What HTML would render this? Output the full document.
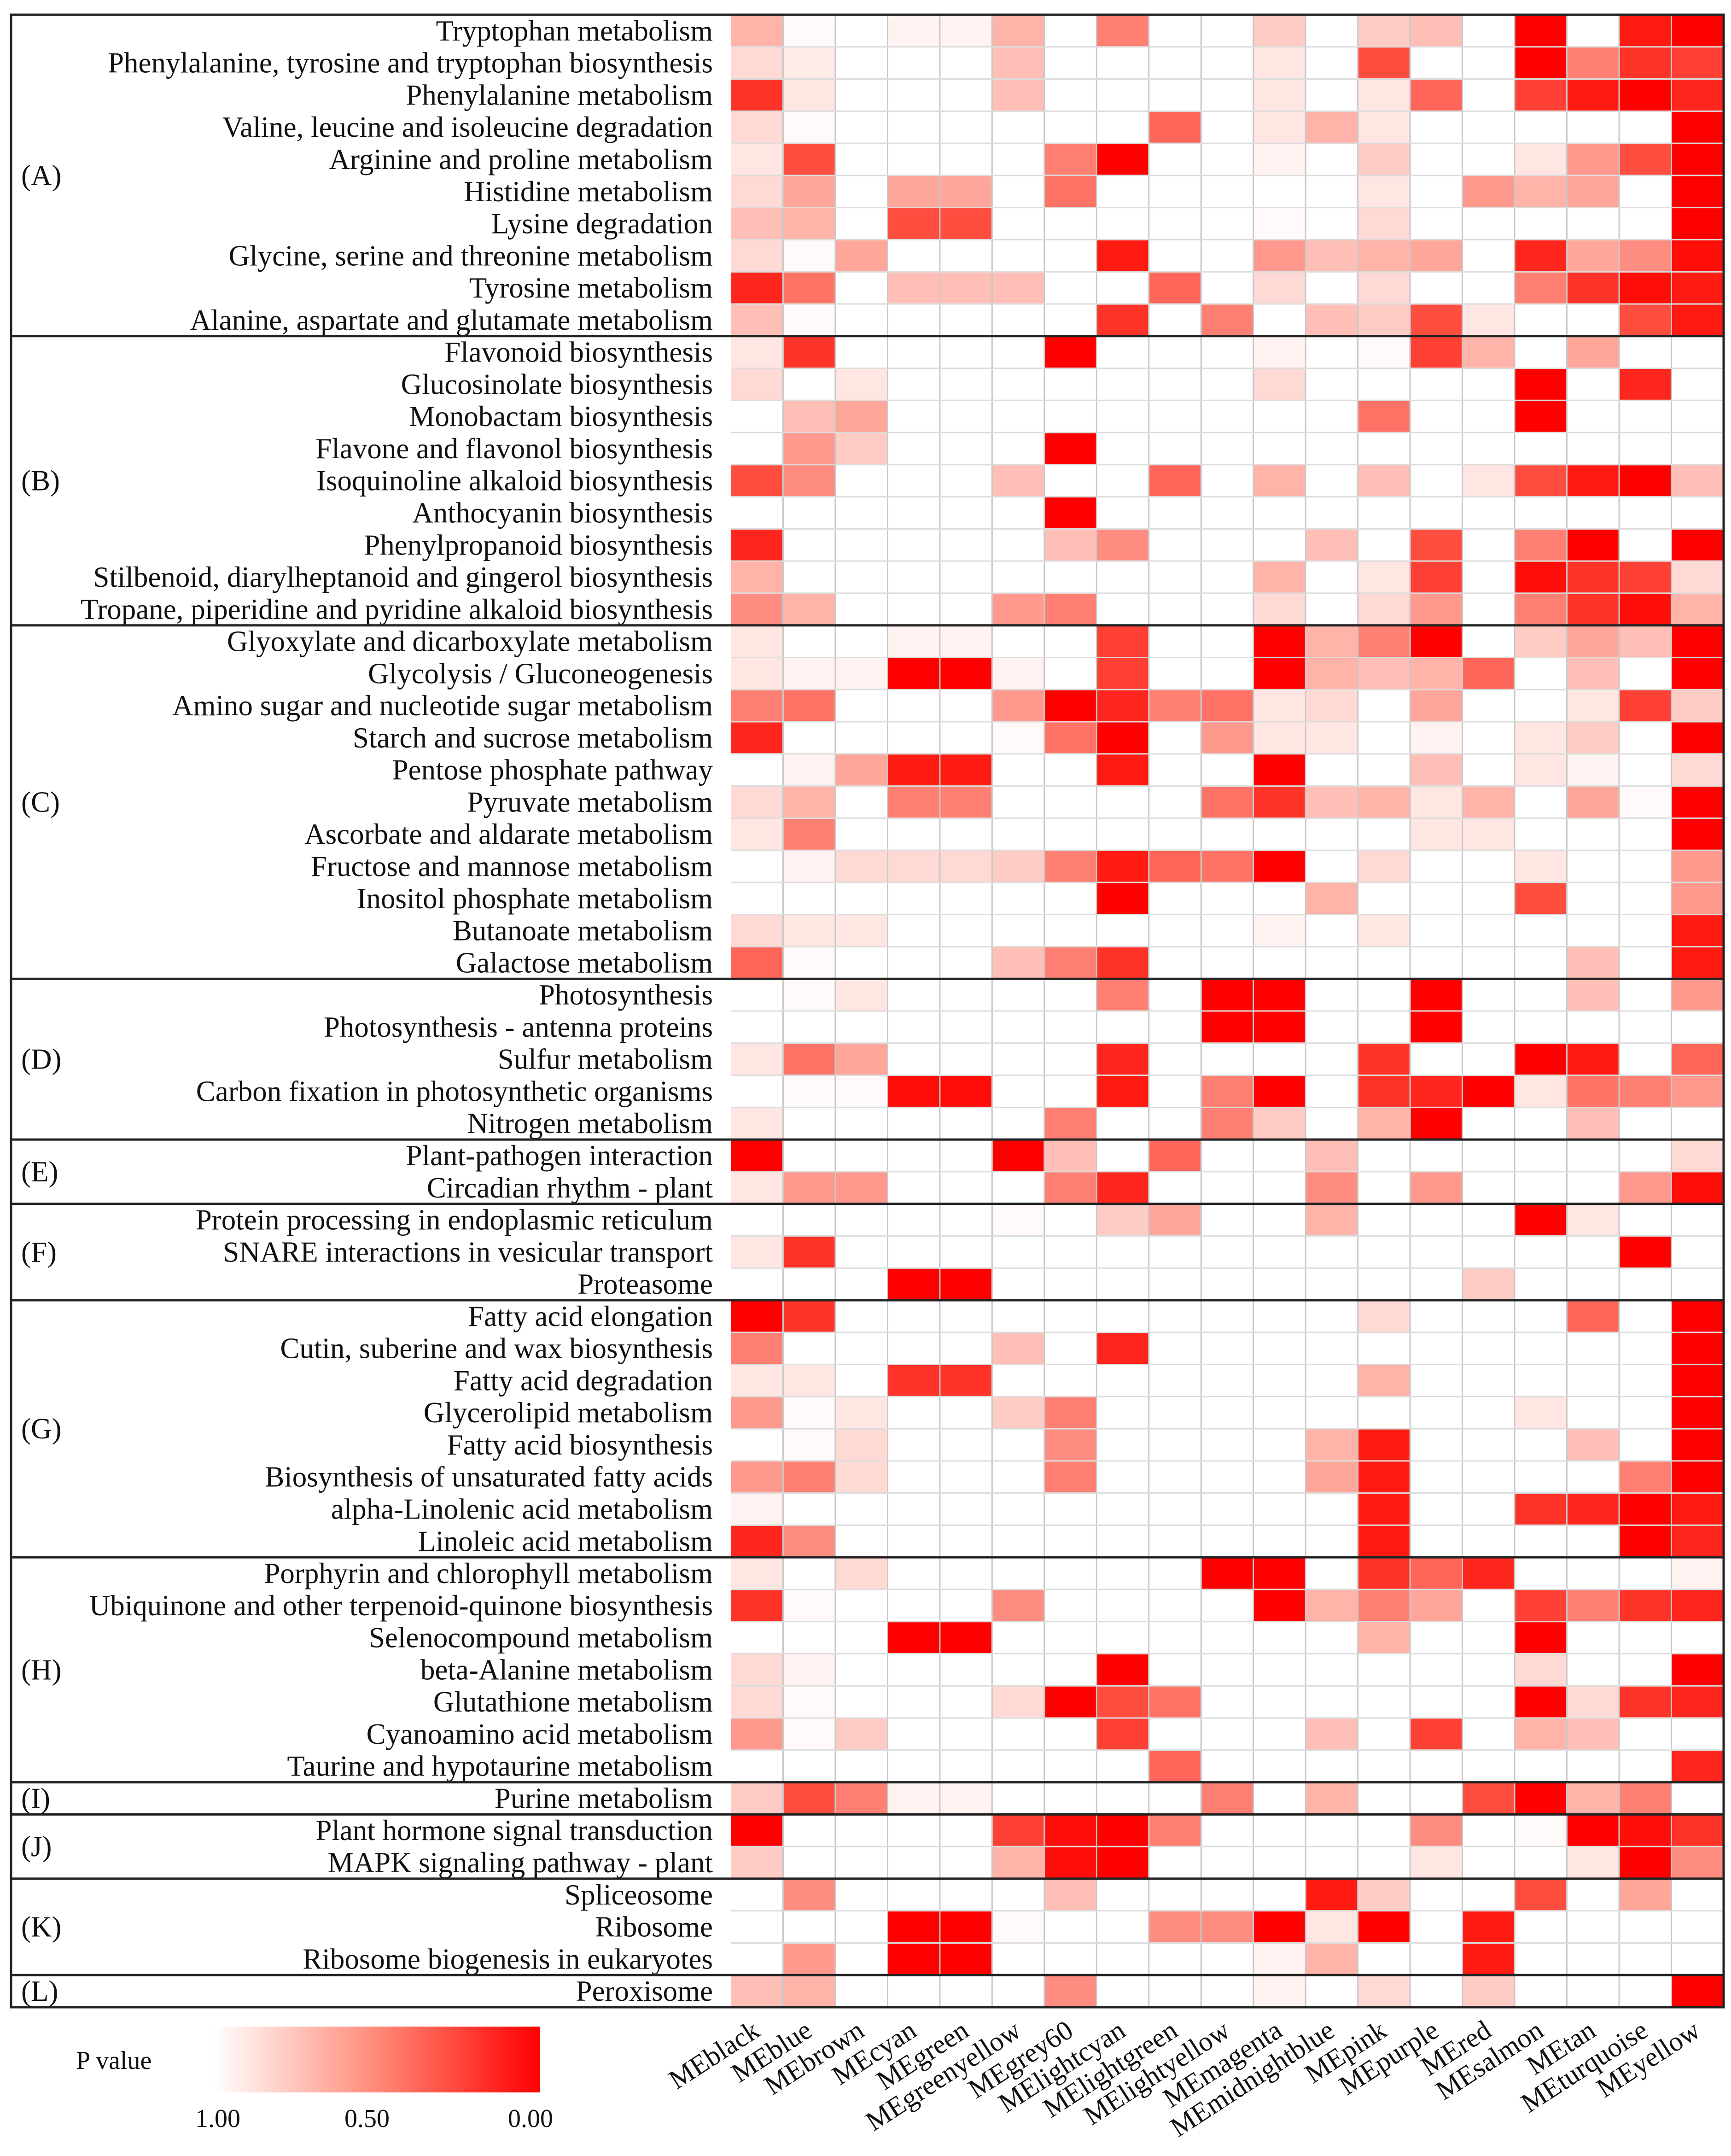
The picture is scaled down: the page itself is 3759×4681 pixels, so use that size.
<!DOCTYPE html>
<html><head><meta charset="utf-8"><style>
html,body{margin:0;padding:0;background:#fff;}
svg{display:block;}
text{font-family:"Liberation Serif",serif;fill:#111;}
</style></head><body>
<svg id="chart" width="3759" height="4681" viewBox="0 0 3759 4681" xmlns="http://www.w3.org/2000/svg">
<defs><linearGradient id="pgrad" x1="0" x2="1" y1="0" y2="0"><stop offset="0" stop-color="#ffffff"/><stop offset="0.5" stop-color="#ff8a78"/><stop offset="1" stop-color="#ff0000"/></linearGradient></defs>
<g id="cells"></g>
<g id="grid"></g>
<g id="rowlabels"></g>
<g id="groups"></g>
<g id="xlabels"></g>
<g>
<text x="165" y="4492" font-size="56">P value</text>
<rect x="464" y="4400" width="709" height="143" fill="url(#pgrad)"/>
<text x="473" y="4618" font-size="56" text-anchor="middle">1.00</text>
<text x="797" y="4618" font-size="56" text-anchor="middle">0.50</text>
<text x="1152" y="4618" font-size="56" text-anchor="middle">0.00</text>
</g>
</svg>
<script>
const modules = ["MEblack","MEblue","MEbrown","MEcyan","MEgreen","MEgreenyellow","MEgrey60","MElightcyan","MElightgreen","MElightyellow","MEmagenta","MEmidnightblue","MEpink","MEpurple","MEred","MEsalmon","MEtan","MEturquoise","MEyellow"];
const pathways = ["Tryptophan metabolism","Phenylalanine, tyrosine and tryptophan biosynthesis","Phenylalanine metabolism","Valine, leucine and isoleucine degradation","Arginine and proline metabolism","Histidine metabolism","Lysine degradation","Glycine, serine and threonine metabolism","Tyrosine metabolism","Alanine, aspartate and glutamate metabolism",
"Flavonoid biosynthesis","Glucosinolate biosynthesis","Monobactam biosynthesis","Flavone and flavonol biosynthesis","Isoquinoline alkaloid biosynthesis","Anthocyanin biosynthesis","Phenylpropanoid biosynthesis","Stilbenoid, diarylheptanoid and gingerol biosynthesis","Tropane, piperidine and pyridine alkaloid biosynthesis",
"Glyoxylate and dicarboxylate metabolism","Glycolysis / Gluconeogenesis","Amino sugar and nucleotide sugar metabolism","Starch and sucrose metabolism","Pentose phosphate pathway","Pyruvate metabolism","Ascorbate and aldarate metabolism","Fructose and mannose metabolism","Inositol phosphate metabolism","Butanoate metabolism","Galactose metabolism",
"Photosynthesis","Photosynthesis - antenna proteins","Sulfur metabolism","Carbon fixation in photosynthetic organisms","Nitrogen metabolism",
"Plant-pathogen interaction","Circadian rhythm - plant",
"Protein processing in endoplasmic reticulum","SNARE interactions in vesicular transport","Proteasome",
"Fatty acid elongation","Cutin, suberine and wax biosynthesis","Fatty acid degradation","Glycerolipid metabolism","Fatty acid biosynthesis","Biosynthesis of unsaturated fatty acids","alpha-Linolenic acid metabolism","Linoleic acid metabolism",
"Porphyrin and chlorophyll metabolism","Ubiquinone and other terpenoid-quinone biosynthesis","Selenocompound metabolism","beta-Alanine metabolism","Glutathione metabolism","Cyanoamino acid metabolism","Taurine and hypotaurine metabolism",
"Purine metabolism","Plant hormone signal transduction","MAPK signaling pathway - plant","Spliceosome","Ribosome","Ribosome biogenesis in eukaryotes","Peroxisome"];
const groupNames = ["(A)","(B)","(C)","(D)","(E)","(F)","(G)","(H)","(I)","(J)","(K)","(L)"];
const groupSizes = [10,9,11,5,2,3,8,7,1,2,3,1];
const pValues = [
[.7,.98,1,.95,.95,.7,1,.5,1,1,.8,1,.8,.75,1,0,1,.1,0],
[.85,.92,1,1,1,.75,1,1,1,1,.9,1,.3,1,1,0,.5,.2,.25],
[.2,.9,1,1,1,.75,1,1,1,1,.9,1,.9,.4,1,.25,.1,0,.15],
[.85,.98,1,1,1,1,1,1,.4,1,.9,.7,.9,1,1,1,1,1,0],
[.9,.3,1,1,1,1,.5,0,1,1,.95,1,.8,1,1,.9,.6,.3,0],
[.85,.65,1,.65,.65,1,.45,1,1,1,1,1,.9,1,.6,.7,.65,1,0],
[.75,.7,1,.3,.3,1,1,1,1,1,.98,1,.85,1,1,1,1,1,0],
[.85,.98,.65,1,1,1,1,.1,1,1,.6,.75,.7,.65,1,.15,.65,.55,.05],
[.15,.45,1,.75,.75,.75,1,1,.4,1,.85,1,.85,1,1,.5,.2,.05,.1],
[.75,.98,1,1,1,1,1,.2,1,.5,1,.75,.8,.3,.9,1,1,.3,.1],
[.9,.2,1,1,1,1,0,1,1,1,.95,1,.98,.25,.7,1,.65,1,1],
[.85,1,.9,1,1,1,1,1,1,1,.85,1,1,1,1,0,1,.15,1],
[1,.75,.65,1,1,1,1,1,1,1,1,1,.45,1,1,0,1,1,1],
[1,.6,.8,1,1,1,0,1,1,1,1,1,1,1,1,1,1,1,1],
[.3,.55,1,1,1,.75,1,1,.4,1,.7,1,.75,1,.9,.3,.1,0,.75],
[1,1,1,1,1,1,0,1,1,1,1,1,1,1,1,1,1,1,1],
[.15,1,1,1,1,1,.75,.55,1,1,1,.75,1,.3,1,.5,0,1,0],
[.7,1,1,1,1,1,1,1,1,1,.7,1,.9,.25,1,.05,.2,.25,.85],
[.55,.7,1,1,1,.6,.5,1,1,1,.85,1,.85,.6,1,.5,.2,.05,.7],
[.9,1,1,.95,.95,1,1,.25,1,1,0,.7,.5,0,1,.8,.65,.75,0],
[.9,.95,.95,0,0,.95,1,.25,1,1,0,.7,.75,.7,.4,1,.75,1,0],
[.5,.45,1,1,1,.6,0,.15,.5,.45,.9,.85,1,.65,1,1,.9,.25,.8],
[.15,1,1,1,1,.98,.45,0,1,.6,.9,.9,1,.95,1,.9,.8,1,0],
[1,.95,.65,.1,.1,1,1,.1,1,1,0,1,1,.75,1,.9,.95,1,.85],
[.85,.7,1,.5,.5,1,1,1,1,.45,.2,.75,.7,.9,.7,1,.65,.98,0],
[.9,.5,1,1,1,1,1,1,1,1,1,1,1,.9,.9,1,1,1,0],
[1,.95,.85,.85,.85,.8,.5,.1,.4,.45,0,1,.85,1,1,.9,1,1,.6],
[1,1,1,1,1,1,1,0,1,1,1,.7,1,1,1,.3,1,1,.6],
[.85,.9,.9,1,1,1,1,1,1,1,.95,1,.9,1,1,1,1,1,.1],
[.4,.98,1,1,1,.75,.5,.2,1,1,1,1,1,1,1,1,.75,1,.1],
[1,.98,.9,1,1,1,1,.5,1,0,0,1,1,0,1,1,.75,1,.6],
[1,1,1,1,1,1,1,1,1,0,0,1,1,0,1,1,1,1,1],
[.9,.45,.65,1,1,1,1,.15,1,1,1,1,.2,1,1,0,.1,1,.4],
[1,.98,.98,.05,.05,1,1,.1,1,.5,0,1,.2,.15,0,.9,.45,.5,.6],
[.9,1,1,1,1,1,.5,1,1,.5,.8,1,.7,0,1,1,.75,1,1],
[0,1,1,1,1,0,.75,1,.4,1,1,.75,1,1,1,1,1,1,.85],
[.9,.6,.6,1,1,1,.5,.15,1,1,1,.55,1,.6,1,1,1,.6,.05],
[1,1,1,1,1,.98,1,.8,.65,1,1,.7,1,1,1,0,.9,1,1],
[.9,.2,1,1,1,1,1,1,1,1,1,1,1,1,1,1,1,0,1],
[1,1,1,0,0,1,1,1,1,1,1,1,1,1,.8,1,1,1,1],
[0,.2,1,1,1,1,1,1,1,1,1,1,.85,1,1,1,.4,1,0],
[.5,1,1,1,1,.75,1,.15,1,1,1,1,1,1,1,1,1,1,0],
[.9,.9,1,.2,.2,1,1,1,1,1,1,1,.7,1,1,1,1,1,0],
[.6,.98,.9,1,1,.8,.5,1,1,1,1,1,1,1,1,.9,1,1,0],
[1,.98,.85,1,1,1,.55,1,1,1,1,.7,.1,1,1,1,.75,1,0],
[.6,.5,.85,1,1,1,.5,1,1,1,1,.65,.1,1,1,1,1,.5,0],
[.95,1,1,1,1,1,1,1,1,1,1,1,.1,1,1,.2,.15,0,.1],
[.15,.55,1,1,1,1,1,1,1,1,1,1,.1,1,1,1,1,0,.15],
[.9,1,.85,1,1,1,1,1,1,0,0,1,.2,.4,.15,1,1,1,.95],
[.2,.98,1,1,1,.55,1,1,1,1,0,.7,.5,.65,1,.25,.5,.2,.15],
[1,1,1,0,0,1,1,1,1,1,1,1,.7,1,1,0,1,1,1],
[.85,.95,1,1,1,1,1,0,1,1,1,1,1,1,1,.85,1,1,0],
[.85,.98,1,1,1,.85,0,.3,.45,1,1,1,1,1,1,0,.85,.2,.15],
[.6,.98,.8,1,1,1,1,.25,1,1,1,.75,1,.25,1,.7,.75,1,1],
[1,1,1,1,1,1,1,1,.4,1,1,1,1,1,1,1,1,1,.15],
[.8,.3,.5,.95,.95,1,1,1,1,.5,1,.7,1,1,.3,0,.7,.5,1],
[0,1,1,1,1,.25,.05,0,.5,1,1,1,1,.55,1,.98,0,.05,.2],
[.8,1,1,1,1,.7,.05,0,1,1,1,1,1,.9,1,1,.9,0,.55],
[1,.55,1,1,1,1,.75,1,1,1,1,.1,.8,1,1,.3,1,.65,1],
[1,1,1,0,0,.98,1,1,.55,.55,0,.9,0,1,.1,1,1,1,1],
[1,.6,1,0,0,1,1,1,1,1,.95,.7,1,1,.1,1,1,1,1],
[.75,.7,1,1,1,1,.55,1,1,1,.95,1,.85,1,.8,1,1,1,0]
];

const NS = "http://www.w3.org/2000/svg";
const X0 = 1587, X1 = 3743, Y0 = 32, Y1 = 4358, LEFT = 24;
const colW = (X1 - X0) / modules.length;
const rowH = (Y1 - Y0) / pathways.length;
function xPos(c){ return X0 + c * colW; }
function yPos(r){ return Y0 + r * rowH; }
function colorFor(p){
  const t = Math.max(0, Math.min(1, p));
  const g = Math.round(255 * t);
  const b = Math.round(255 * Math.pow(t, 1.15));
  return "rgb(255," + g + "," + b + ")";
}
function mk(tag, attrs, parent){ const e = document.createElementNS(NS, tag); for (const k in attrs) e.setAttribute(k, attrs[k]); parent.appendChild(e); return e; }

const cells = document.getElementById("cells");
for (let r = 0; r < pathways.length; r++) {
  for (let c = 0; c < modules.length; c++) {
    const rect = mk("rect", {x: xPos(c), y: yPos(r), width: colW + 0.5, height: rowH + 0.5, fill: colorFor(pValues[r][c])}, cells);
    
    
  }
}
const grid = document.getElementById("grid");
for (let c = 1; c < modules.length; c++) {
  const l = mk("line", {x1: xPos(c), x2: xPos(c), y1: Y0, y2: Y1, stroke: "#c8c8c8", "stroke-width": 3}, grid);
  
  
}
for (let r = 1; r < pathways.length; r++) {
  const l = mk("line", {x1: X0, x2: X1, y1: yPos(r), y2: yPos(r), stroke: "#dcdcdc", "stroke-width": 3}, grid);
  
  
}
const frame = mk("rect", {x: LEFT, y: Y0, width: X1 - LEFT, height: Y1 - Y0, fill: "none", stroke: "#222", "stroke-width": 5}, grid);



const rl = document.getElementById("rowlabels");
pathways.forEach((name, r) => {
  const t = mk("text", {x: 1548, y: yPos(r) + rowH * 0.5 + 21, "font-size": 63, "text-anchor": "end"}, rl);
  t.textContent = name;
  
  
});

const gl = document.getElementById("groups");
let start = 0;
groupSizes.forEach((n, g) => {
  const t = mk("text", {x: 46, y: yPos(start) + n * rowH / 2 + 21, "font-size": 63}, gl);
  t.textContent = groupNames[g];
  
  
  start += n;
  if (start < pathways.length) {
    const l = mk("line", {x1: LEFT, x2: X1, y1: yPos(start), y2: yPos(start), stroke: "#222", "stroke-width": 5}, gl);
    
    
  }
});

const xl = document.getElementById("xlabels");
modules.forEach((m, c) => {
  const cx = xPos(c) + colW / 2 + 10, cy = 4418;
  const t = mk("text", {x: cx, y: cy, "font-size": 60, "text-anchor": "end", transform: "rotate(-33 " + cx + " " + cy + ")"}, xl);
  t.textContent = m;
  
  
});
</script>
</body></html>
